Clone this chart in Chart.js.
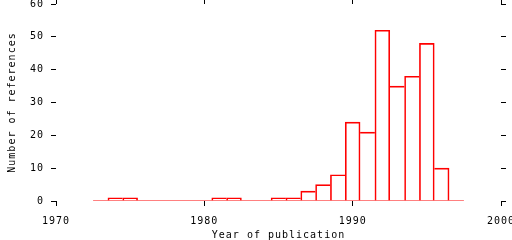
<!DOCTYPE html>
<html>
<head>
<meta charset="utf-8">
<script src="https://cdn.jsdelivr.net/npm/chart.js@4/dist/chart.umd.min.js"></script>
<style>
html,body{margin:0;padding:0;background:#fff;}
canvas{display:block;}
</style>
</head>
<body>
<canvas id="c" width="512" height="240"></canvas>
<script>
const years = [1973,1974,1975,1976,1977,1978,1979,1980,1981,1982,1983,1984,1985,1986,1987,1988,1989,1990,1991,1992,1993,1994,1995,1996,1997];
const counts = [0,1,1,0,0,0,0,0,1,1,0,0,1,1,3,5,8,24,21,52,35,38,48,10,0];
const xTicks = [1970,1980,1990,2000];
const yTicks = [0,10,20,30,40,50,60];
const xTitle = 'Year of publication';
const yTitle = 'Number of references';

const RED = '#ff0000';
const FONT = {family: '"DejaVu Sans Mono", "Liberation Mono", monospace', size: 10};

const barData = years.map((y, i) => ({x: y, y: counts[i]}));
const baseData = [{x: years[0] - 0.5, y: 0}, {x: years[years.length - 1] + 0.5, y: 0}];

function bw(ctx) {
  const i = ctx.dataIndex;
  if (i === undefined) return 1;
  const h = counts[i];
  if (!h) return 0;
  return {
    top: 1,
    bottom: 0,
    left: (i === 0 || counts[i - 1] <= h) ? 1 : 0,
    right: (i === counts.length - 1 || counts[i + 1] < h) ? 1 : 0
  };
}

const spacing = {
  id: 'spacing',
  beforeInit(c) { c.ctx.letterSpacing = '1px'; },
  beforeUpdate(c) { c.ctx.letterSpacing = '1px'; },
  beforeDraw(c) { c.ctx.letterSpacing = '1px'; }
};

const gridCommon = {drawOnChartArea: false, drawTicks: true, color: '#000', lineWidth: 1};
function noPad(s) { s.paddingLeft = 0; s.paddingRight = 0; s.paddingTop = 0; s.paddingBottom = 0; }

new Chart(document.getElementById('c'), {
  type: 'bar',
  plugins: [spacing],
  data: {
    datasets: [
      {
        type: 'bar',
        data: barData,
        backgroundColor: 'rgba(0,0,0,0)',
        borderColor: RED,
        borderWidth: bw,
        borderSkipped: false,
        barPercentage: 1,
        categoryPercentage: 1,
        grouped: false
      },
      {
        type: 'line',
        data: baseData,
        borderColor: RED,
        borderWidth: 1,
        pointRadius: 0,
        fill: false
      }
    ]
  },
  options: {
    responsive: false,
    animation: false,
    devicePixelRatio: 1,
    plugins: {legend: {display: false}, tooltip: {enabled: false}},
    layout: {padding: 0},
    scales: {
      x: {
        type: 'linear', position: 'bottom', min: 1970, max: 2000, offset: false,
        afterBuildTicks: s => { s.ticks = xTicks.map(v => ({value: v})); },
        afterFit: s => { s.height = 39; noPad(s); },
        border: {display: false},
        grid: Object.assign({}, gridCommon, {tickLength: 5, offset: false}),
        ticks: {color: '#000', font: FONT, padding: 9, maxRotation: 0, autoSkip: false, callback: v => String(v)},
        title: {display: true, text: xTitle, color: '#000', font: FONT, padding: {top: 0, bottom: -1}}
      },
      x2: {
        type: 'linear', position: 'top', min: 1970, max: 2000, offset: false,
        afterBuildTicks: s => { s.ticks = xTicks.map(v => ({value: v})); },
        afterFit: s => { s.height = 4; noPad(s); },
        border: {display: false},
        grid: Object.assign({}, gridCommon, {tickLength: 4, offset: false}),
        ticks: {display: false}
      },
      y: {
        type: 'linear', position: 'left', min: 0, max: 60,
        afterBuildTicks: s => { s.ticks = yTicks.map(v => ({value: v})); },
        afterFit: s => { s.width = 56; noPad(s); },
        border: {display: false},
        grid: Object.assign({}, gridCommon, {tickLength: 5}),
        ticks: {color: '#000', font: FONT, padding: 7, callback: v => String(v)},
        title: {display: true, text: yTitle, color: '#000', font: FONT, padding: {top: 6, bottom: 0}}
      },
      y2: {
        type: 'linear', position: 'right', min: 0, max: 60,
        afterBuildTicks: s => { s.ticks = yTicks.map(v => ({value: v})); },
        afterFit: s => { s.width = 11; noPad(s); },
        border: {display: false},
        grid: Object.assign({}, gridCommon, {tickLength: 5}),
        ticks: {display: false}
      }
    }
  }
});
</script>
</body>
</html>
